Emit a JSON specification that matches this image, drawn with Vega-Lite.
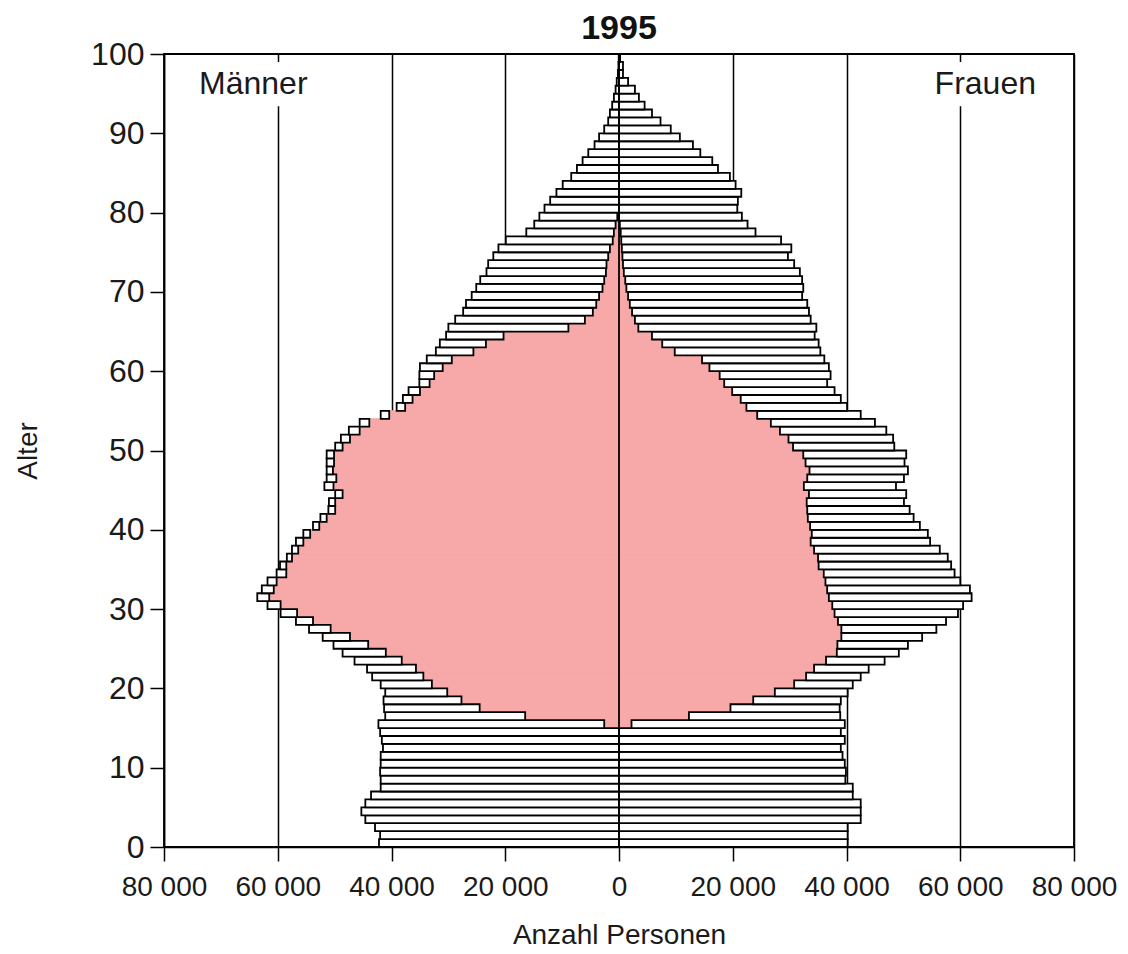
{
  "$schema": "https://vega.github.io/schema/vega-lite/v6.json",
  "width": 910,
  "height": 793,
  "autosize": {"type": "none"},
  "padding": {"left": 164, "top": 54, "right": 54, "bottom": 107},
  "background": "white",
  "title": {"text": "1995", "fontSize": 34, "fontWeight": "bold", "font": "Liberation Sans", "color": "#111111", "anchor": "middle", "offset": -8},
  "datasets": {
    "pyramid": [
      {"age":0,"sex":"Männer","total":-42200,"employed":0},
      {"age":1,"sex":"Männer","total":-42000,"employed":0},
      {"age":2,"sex":"Männer","total":-42900,"employed":0},
      {"age":3,"sex":"Männer","total":-44600,"employed":0},
      {"age":4,"sex":"Männer","total":-45300,"employed":0},
      {"age":5,"sex":"Männer","total":-44600,"employed":0},
      {"age":6,"sex":"Männer","total":-43600,"employed":0},
      {"age":7,"sex":"Männer","total":-41900,"employed":0},
      {"age":8,"sex":"Männer","total":-41900,"employed":0},
      {"age":9,"sex":"Männer","total":-42000,"employed":0},
      {"age":10,"sex":"Männer","total":-41900,"employed":0},
      {"age":11,"sex":"Männer","total":-41900,"employed":0},
      {"age":12,"sex":"Männer","total":-41500,"employed":0},
      {"age":13,"sex":"Männer","total":-41700,"employed":0},
      {"age":14,"sex":"Männer","total":-42000,"employed":0},
      {"age":15,"sex":"Männer","total":-42300,"employed":-2600},
      {"age":16,"sex":"Männer","total":-41100,"employed":-16500},
      {"age":17,"sex":"Männer","total":-41300,"employed":-24500},
      {"age":18,"sex":"Männer","total":-41400,"employed":-27700},
      {"age":19,"sex":"Männer","total":-41100,"employed":-30200},
      {"age":20,"sex":"Männer","total":-41900,"employed":-32900},
      {"age":21,"sex":"Männer","total":-43400,"employed":-34400},
      {"age":22,"sex":"Männer","total":-44300,"employed":-35700},
      {"age":23,"sex":"Männer","total":-46500,"employed":-38200},
      {"age":24,"sex":"Männer","total":-48600,"employed":-41000},
      {"age":25,"sex":"Männer","total":-50200,"employed":-44100},
      {"age":26,"sex":"Männer","total":-52100,"employed":-47300},
      {"age":27,"sex":"Männer","total":-54500,"employed":-50700},
      {"age":28,"sex":"Männer","total":-56800,"employed":-53800},
      {"age":29,"sex":"Männer","total":-59500,"employed":-56600},
      {"age":30,"sex":"Männer","total":-61800,"employed":-59500},
      {"age":31,"sex":"Männer","total":-63600,"employed":-61500},
      {"age":32,"sex":"Männer","total":-62800,"employed":-60700},
      {"age":33,"sex":"Männer","total":-61800,"employed":-60200},
      {"age":34,"sex":"Männer","total":-60200,"employed":-58500},
      {"age":35,"sex":"Männer","total":-59600,"employed":-58500},
      {"age":36,"sex":"Männer","total":-58400,"employed":-57500},
      {"age":37,"sex":"Männer","total":-57500,"employed":-56400},
      {"age":38,"sex":"Männer","total":-56800,"employed":-55500},
      {"age":39,"sex":"Männer","total":-55500,"employed":-54300},
      {"age":40,"sex":"Männer","total":-53800,"employed":-52700},
      {"age":41,"sex":"Männer","total":-52500,"employed":-51400},
      {"age":42,"sex":"Männer","total":-51100,"employed":-49900},
      {"age":43,"sex":"Männer","total":-51000,"employed":-49900},
      {"age":44,"sex":"Männer","total":-49900,"employed":-48600},
      {"age":45,"sex":"Männer","total":-51800,"employed":-50200},
      {"age":46,"sex":"Männer","total":-51400,"employed":-49700},
      {"age":47,"sex":"Männer","total":-51400,"employed":-50300},
      {"age":48,"sex":"Männer","total":-51400,"employed":-50100},
      {"age":49,"sex":"Männer","total":-51400,"employed":-50100},
      {"age":50,"sex":"Männer","total":-49900,"employed":-48600},
      {"age":51,"sex":"Männer","total":-48900,"employed":-47300},
      {"age":52,"sex":"Männer","total":-47500,"employed":-45600},
      {"age":53,"sex":"Männer","total":-45600,"employed":-43900},
      {"age":54,"sex":"Männer","total":-41900,"employed":-40400},
      {"age":55,"sex":"Männer","total":-39100,"employed":-37600},
      {"age":56,"sex":"Männer","total":-38000,"employed":-36300},
      {"age":57,"sex":"Männer","total":-37000,"employed":-35000},
      {"age":58,"sex":"Männer","total":-35100,"employed":-33300},
      {"age":59,"sex":"Männer","total":-35100,"employed":-32500},
      {"age":60,"sex":"Männer","total":-35000,"employed":-31000},
      {"age":61,"sex":"Männer","total":-33800,"employed":-29400},
      {"age":62,"sex":"Männer","total":-32200,"employed":-25600},
      {"age":63,"sex":"Männer","total":-31500,"employed":-23400},
      {"age":64,"sex":"Männer","total":-30400,"employed":-20300},
      {"age":65,"sex":"Männer","total":-30000,"employed":-8900},
      {"age":66,"sex":"Männer","total":-28800,"employed":-6000},
      {"age":67,"sex":"Männer","total":-27400,"employed":-4600},
      {"age":68,"sex":"Männer","total":-26900,"employed":-4000},
      {"age":69,"sex":"Männer","total":-25900,"employed":-3500},
      {"age":70,"sex":"Männer","total":-25100,"employed":-2900},
      {"age":71,"sex":"Männer","total":-24400,"employed":-2600},
      {"age":72,"sex":"Männer","total":-23300,"employed":-2300},
      {"age":73,"sex":"Männer","total":-23000,"employed":-2200},
      {"age":74,"sex":"Männer","total":-22100,"employed":-1900},
      {"age":75,"sex":"Männer","total":-21200,"employed":-1600},
      {"age":76,"sex":"Männer","total":-19900,"employed":-1100},
      {"age":77,"sex":"Männer","total":-16300,"employed":-900},
      {"age":78,"sex":"Männer","total":-14900,"employed":-600},
      {"age":79,"sex":"Männer","total":-14000,"employed":-300},
      {"age":80,"sex":"Männer","total":-13100,"employed":0},
      {"age":81,"sex":"Männer","total":-12100,"employed":0},
      {"age":82,"sex":"Männer","total":-11000,"employed":0},
      {"age":83,"sex":"Männer","total":-9900,"employed":0},
      {"age":84,"sex":"Männer","total":-8400,"employed":0},
      {"age":85,"sex":"Männer","total":-7400,"employed":0},
      {"age":86,"sex":"Männer","total":-6400,"employed":0},
      {"age":87,"sex":"Männer","total":-5400,"employed":0},
      {"age":88,"sex":"Männer","total":-4300,"employed":0},
      {"age":89,"sex":"Männer","total":-3500,"employed":0},
      {"age":90,"sex":"Männer","total":-2600,"employed":0},
      {"age":91,"sex":"Männer","total":-1900,"employed":0},
      {"age":92,"sex":"Männer","total":-1600,"employed":0},
      {"age":93,"sex":"Männer","total":-1200,"employed":0},
      {"age":94,"sex":"Männer","total":-900,"employed":0},
      {"age":95,"sex":"Männer","total":-600,"employed":0},
      {"age":96,"sex":"Männer","total":-400,"employed":0},
      {"age":97,"sex":"Männer","total":-200,"employed":0},
      {"age":98,"sex":"Männer","total":-100,"employed":0},
      {"age":99,"sex":"Männer","total":-50,"employed":0},
      {"age":0,"sex":"Frauen","total":40200,"employed":0},
      {"age":1,"sex":"Frauen","total":40200,"employed":0},
      {"age":2,"sex":"Frauen","total":40200,"employed":0},
      {"age":3,"sex":"Frauen","total":42500,"employed":0},
      {"age":4,"sex":"Frauen","total":42500,"employed":0},
      {"age":5,"sex":"Frauen","total":42500,"employed":0},
      {"age":6,"sex":"Frauen","total":41100,"employed":0},
      {"age":7,"sex":"Frauen","total":41100,"employed":0},
      {"age":8,"sex":"Frauen","total":39800,"employed":0},
      {"age":9,"sex":"Frauen","total":39900,"employed":0},
      {"age":10,"sex":"Frauen","total":39700,"employed":0},
      {"age":11,"sex":"Frauen","total":39300,"employed":0},
      {"age":12,"sex":"Frauen","total":39000,"employed":0},
      {"age":13,"sex":"Frauen","total":39700,"employed":0},
      {"age":14,"sex":"Frauen","total":39000,"employed":0},
      {"age":15,"sex":"Frauen","total":39700,"employed":2200},
      {"age":16,"sex":"Frauen","total":38900,"employed":12300},
      {"age":17,"sex":"Frauen","total":38800,"employed":19600},
      {"age":18,"sex":"Frauen","total":39000,"employed":23600},
      {"age":19,"sex":"Frauen","total":40200,"employed":27400},
      {"age":20,"sex":"Frauen","total":41100,"employed":30800},
      {"age":21,"sex":"Frauen","total":42500,"employed":32900},
      {"age":22,"sex":"Frauen","total":43900,"employed":34300},
      {"age":23,"sex":"Frauen","total":46700,"employed":36400},
      {"age":24,"sex":"Frauen","total":49200,"employed":38300},
      {"age":25,"sex":"Frauen","total":50800,"employed":38400},
      {"age":26,"sex":"Frauen","total":53300,"employed":39100},
      {"age":27,"sex":"Frauen","total":55800,"employed":39100},
      {"age":28,"sex":"Frauen","total":57500,"employed":38500},
      {"age":29,"sex":"Frauen","total":59600,"employed":37900},
      {"age":30,"sex":"Frauen","total":60500,"employed":37500},
      {"age":31,"sex":"Frauen","total":62000,"employed":36900},
      {"age":32,"sex":"Frauen","total":61700,"employed":36600},
      {"age":33,"sex":"Frauen","total":60000,"employed":36300},
      {"age":34,"sex":"Frauen","total":59000,"employed":36000},
      {"age":35,"sex":"Frauen","total":58400,"employed":35100},
      {"age":36,"sex":"Frauen","total":57800,"employed":35000},
      {"age":37,"sex":"Frauen","total":56400,"employed":34300},
      {"age":38,"sex":"Frauen","total":54700,"employed":33700},
      {"age":39,"sex":"Frauen","total":54300,"employed":33900},
      {"age":40,"sex":"Frauen","total":52900,"employed":33600},
      {"age":41,"sex":"Frauen","total":51800,"employed":33200},
      {"age":42,"sex":"Frauen","total":51100,"employed":33100},
      {"age":43,"sex":"Frauen","total":50100,"employed":33000},
      {"age":44,"sex":"Frauen","total":50500,"employed":33400},
      {"age":45,"sex":"Frauen","total":48700,"employed":32500},
      {"age":46,"sex":"Frauen","total":50100,"employed":33100},
      {"age":47,"sex":"Frauen","total":50800,"employed":33500},
      {"age":48,"sex":"Frauen","total":50200,"employed":32800},
      {"age":49,"sex":"Frauen","total":50500,"employed":32400},
      {"age":50,"sex":"Frauen","total":48400,"employed":30600},
      {"age":51,"sex":"Frauen","total":48200,"employed":29800},
      {"age":52,"sex":"Frauen","total":47000,"employed":28300},
      {"age":53,"sex":"Frauen","total":45000,"employed":26700},
      {"age":54,"sex":"Frauen","total":42500,"employed":24300},
      {"age":55,"sex":"Frauen","total":40100,"employed":22400},
      {"age":56,"sex":"Frauen","total":39000,"employed":21400},
      {"age":57,"sex":"Frauen","total":37900,"employed":19900},
      {"age":58,"sex":"Frauen","total":36600,"employed":18500},
      {"age":59,"sex":"Frauen","total":37200,"employed":17700},
      {"age":60,"sex":"Frauen","total":36900,"employed":15900},
      {"age":61,"sex":"Frauen","total":36100,"employed":14600},
      {"age":62,"sex":"Frauen","total":35400,"employed":9800},
      {"age":63,"sex":"Frauen","total":35100,"employed":7600},
      {"age":64,"sex":"Frauen","total":34400,"employed":5800},
      {"age":65,"sex":"Frauen","total":34700,"employed":3400},
      {"age":66,"sex":"Frauen","total":33700,"employed":2800},
      {"age":67,"sex":"Frauen","total":33400,"employed":2300},
      {"age":68,"sex":"Frauen","total":33100,"employed":1900},
      {"age":69,"sex":"Frauen","total":32200,"employed":1600},
      {"age":70,"sex":"Frauen","total":32400,"employed":1300},
      {"age":71,"sex":"Frauen","total":32200,"employed":1100},
      {"age":72,"sex":"Frauen","total":31800,"employed":850},
      {"age":73,"sex":"Frauen","total":30800,"employed":700},
      {"age":74,"sex":"Frauen","total":29700,"employed":600},
      {"age":75,"sex":"Frauen","total":30300,"employed":500},
      {"age":76,"sex":"Frauen","total":28500,"employed":400},
      {"age":77,"sex":"Frauen","total":24000,"employed":300},
      {"age":78,"sex":"Frauen","total":22600,"employed":150},
      {"age":79,"sex":"Frauen","total":21600,"employed":0},
      {"age":80,"sex":"Frauen","total":20800,"employed":0},
      {"age":81,"sex":"Frauen","total":20900,"employed":0},
      {"age":82,"sex":"Frauen","total":21500,"employed":0},
      {"age":83,"sex":"Frauen","total":20500,"employed":0},
      {"age":84,"sex":"Frauen","total":19500,"employed":0},
      {"age":85,"sex":"Frauen","total":17400,"employed":0},
      {"age":86,"sex":"Frauen","total":16400,"employed":0},
      {"age":87,"sex":"Frauen","total":14300,"employed":0},
      {"age":88,"sex":"Frauen","total":13000,"employed":0},
      {"age":89,"sex":"Frauen","total":10700,"employed":0},
      {"age":90,"sex":"Frauen","total":9100,"employed":0},
      {"age":91,"sex":"Frauen","total":7300,"employed":0},
      {"age":92,"sex":"Frauen","total":5800,"employed":0},
      {"age":93,"sex":"Frauen","total":4500,"employed":0},
      {"age":94,"sex":"Frauen","total":3500,"employed":0},
      {"age":95,"sex":"Frauen","total":2800,"employed":0},
      {"age":96,"sex":"Frauen","total":1600,"employed":0},
      {"age":97,"sex":"Frauen","total":700,"employed":0},
      {"age":98,"sex":"Frauen","total":700,"employed":0},
      {"age":99,"sex":"Frauen","total":200,"employed":0}
    ]
  },
  "layer": [
    {
      "data": {"name": "pyramid"},
      "transform": [{"bin": {"step": 1, "extent": [0, 100], "nice": false}, "field": "age", "as": ["a0", "a1"]}],
      "mark": {"type": "rect", "fill": "#F7A8A8", "stroke": "#F7A8A8", "strokeWidth": 1},
      "encoding": {
        "x": {
          "field": "employed", "type": "quantitative",
          "scale": {"domain": [-80000, 80000], "nice": false, "zero": false},
          "axis": {
            "values": [-80000, -60000, -40000, -20000, 0, 20000, 40000, 60000, 80000],
            "labelExpr": "replace(format(abs(datum.value), ','), ',', ' ')",
            "grid": true, "gridColor": "#000000", "gridWidth": 1.5, "gridOpacity": 1,
            "tickSize": 14, "tickColor": "#000000", "tickWidth": 1.5,
            "domainColor": "#000000", "domainWidth": 1.5,
            "labelFont": "Liberation Sans", "labelFontSize": 28, "labelColor": "#1a1a1a", "labelPadding": 12,
            "labelFlush": false, "labelOverlap": false,
            "title": "Anzahl Personen", "titleFont": "Liberation Sans", "titleFontSize": 28, "titleFontWeight": "normal", "titleColor": "#1a1a1a", "titlePadding": 20
          }
        },
        "x2": {"datum": 0},
        "y": {
          "field": "a0", "type": "quantitative",
          "scale": {"domain": [0, 100], "nice": false},
          "axis": {
            "values": [0, 10, 20, 30, 40, 50, 60, 70, 80, 90, 100],
            "grid": false,
            "tickSize": 14, "tickColor": "#000000", "tickWidth": 1.5,
            "domainColor": "#000000", "domainWidth": 1.5,
            "labelFont": "Liberation Sans", "labelFontSize": 32, "labelColor": "#1a1a1a", "labelPadding": 6,
            "labelFlush": false, "labelOverlap": false,
            "title": "Alter", "titleFont": "Liberation Sans", "titleFontSize": 28, "titleFontWeight": "normal", "titleColor": "#1a1a1a", "titlePadding": 48
          }
        },
        "y2": {"field": "a1"}
      }
    },
    {
      "data": {"name": "pyramid"},
      "transform": [{"bin": {"step": 1, "extent": [0, 100], "nice": false}, "field": "age", "as": ["a0", "a1"]}],
      "mark": {"type": "rect", "fill": "white", "stroke": "#000000", "strokeWidth": 1.8},
      "encoding": {
        "x": {"field": "employed", "type": "quantitative"},
        "x2": {"field": "total"},
        "y": {"field": "a0", "type": "quantitative"},
        "y2": {"field": "a1"}
      }
    },
    {
      "data": {"values": [{"label": "Mitte"}]},
      "mark": {"type": "rule", "color": "#000000", "strokeWidth": 1.8},
      "encoding": {"x": {"datum": 0}}
    },
    {
      "data": {"values": [{"label": "Männer"}]},
      "mark": {"type": "rect", "fill": "white"},
      "encoding": {"x": {"datum": -74000}, "x2": {"datum": -54000}, "y": {"datum": 93.4}, "y2": {"datum": 99}}
    },
    {
      "data": {"values": [{"label": "Frauen"}]},
      "mark": {"type": "rect", "fill": "white"},
      "encoding": {"x": {"datum": 54000}, "x2": {"datum": 75000}, "y": {"datum": 93.4}, "y2": {"datum": 99}}
    },
    {
      "data": {"values": [{"label": "Männer"}]},
      "mark": {"type": "text", "font": "Liberation Sans", "fontSize": 32, "color": "#1a1a1a", "align": "center", "baseline": "middle"},
      "encoding": {"x": {"datum": -64300}, "y": {"datum": 96.2}, "text": {"field": "label"}}
    },
    {
      "data": {"values": [{"label": "Frauen"}]},
      "mark": {"type": "text", "font": "Liberation Sans", "fontSize": 32, "color": "#1a1a1a", "align": "center", "baseline": "middle"},
      "encoding": {"x": {"datum": 64400}, "y": {"datum": 96.2}, "text": {"field": "label"}}
    }
  ],
  "config": {
    "view": {"stroke": "#000000", "strokeWidth": 1.8},
    "font": "Liberation Sans"
  }
}
